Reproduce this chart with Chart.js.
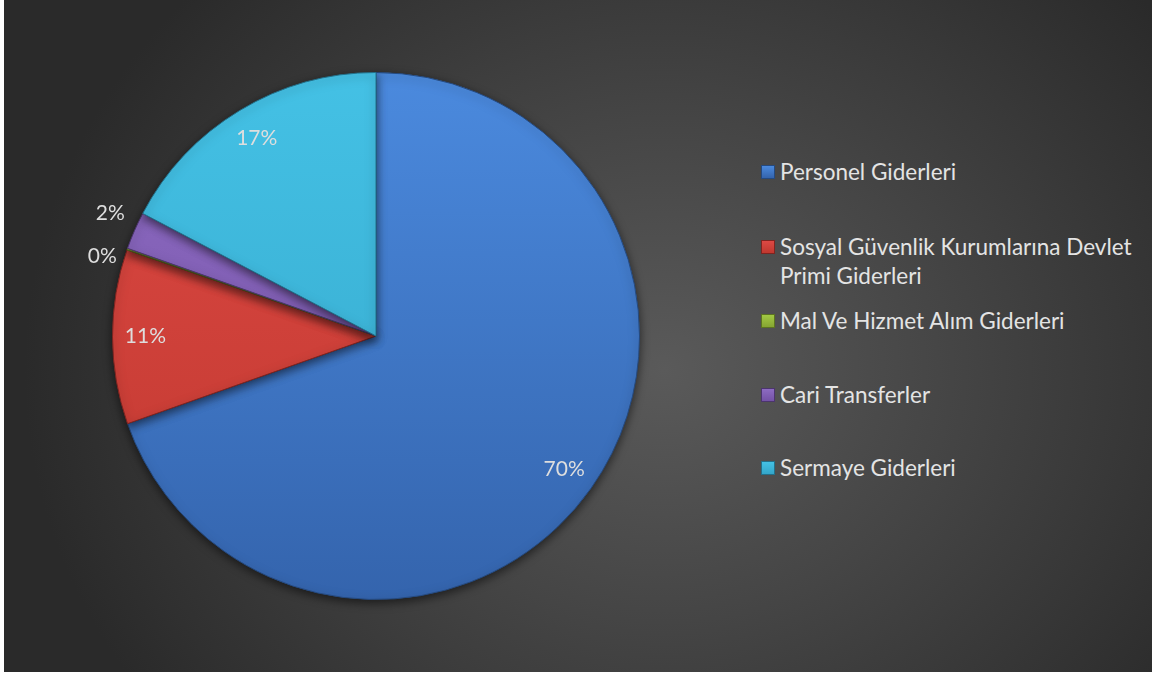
<!DOCTYPE html>
<html>
<head>
<meta charset="utf-8">
<script src="https://cdn.jsdelivr.net/npm/chart.js@4.4.1/dist/chart.umd.min.js"></script>
<style>
  html, body {
    margin: 0;
    padding: 0;
    background: #fff;
    width: 1152px;
    height: 675px;
    overflow: hidden;
  }

  #panel {
    position: absolute;
    left: 4px;
    top: 0;
    width: 1148px;
    height: 672px;
    background: radial-gradient(ellipse 640px 560px at 660px 370px, #5a5a5a 0%, #454545 45%, #2a2a2a 100%);
  }

  #canvasBox {
    position: absolute;
    left: 0;
    top: 0;
    width: 744px;
    height: 672px;
  }

  #legend {
    position: absolute;
    left: 757px;
    top: 0;
    font-family: Lato, "Open Sans", sans-serif;
    font-size: 22.5px;
    color: #e4e4e4;
  }

  .item {
    position: absolute;
    left: 0;
    width: 391px;
    display: flex;
    align-items: flex-start;
    line-height: 29px;
  }

  .box {
    flex: none;
    width: 14px;
    height: 14px;
    margin-top: 8px;
    margin-right: 5px;
    box-sizing: border-box;
  }
</style>
</head>
<body>
<div id="panel">
  <div id="canvasBox"><canvas id="chart"></canvas></div>
  <div id="legend"></div>
</div>
<script>
const categories = [
  'Personel Giderleri',
  'Sosyal Güvenlik Kurumlarına Devlet Primi Giderleri',
  'Mal Ve Hizmet Alım Giderleri',
  'Cari Transferler',
  'Sermaye Giderleri',
];
const shares = [69.6, 10.7, 0.1, 2.3, 17.3];

// light / dark tone for each slice
const lightColors = ['#4b8ade', '#dd4944', '#a2c944', '#8d6bc2', '#44c1e5'];
const darkColors = ['#3464ad', '#c0382f', '#86a532', '#7452a6', '#34a6c9'];
const edgeColors = ['#254a80', '#7e2420', '#5c7421', '#4c356e', '#23708a'];

// top of each legend entry (px inside the panel)
const legendTops = [157, 232, 306, 380, 453];

function sliceFill(context) {
  const { chart, dataIndex } = context;
  const area = chart.chartArea;
  if (!area) {
    return lightColors[dataIndex];
  }
  const g = chart.ctx.createLinearGradient(0, area.top, 0, area.bottom);
  g.addColorStop(0, lightColors[dataIndex]);
  g.addColorStop(1, darkColors[dataIndex]);
  return g;
}

const shadowPlugin = {
  id: 'sliceShadow',
  beforeDatasetsDraw(chart) {
    const { ctx } = chart;
    ctx.save();
    ctx.shadowColor = 'rgba(0, 0, 0, 0.55)';
    ctx.shadowBlur = 10;
    ctx.shadowOffsetY = 3;
  },
  afterDatasetsDraw(chart) {
    chart.ctx.restore();
  },
};

const percentLabels = {
  id: 'percentLabels',
  afterDraw(chart) {
    const { ctx } = chart;
    const meta = chart.getDatasetMeta(0);
    const values = chart.data.datasets[0].data;
    const total = values.reduce((a, b) => a + b, 0);
    const spots = meta.data.map((arc, i) => {
      const p = arc.getProps(['x', 'y', 'startAngle', 'endAngle', 'outerRadius'], true);
      const pct = Math.round((values[i] / total) * 100);
      const mid = (p.startAngle + p.endAngle) / 2;
      const outside = pct < 5;
      const r = outside ? p.outerRadius * 1.1 : p.outerRadius * 0.875;
      return {
        text: `${pct}%`,
        outside,
        x: p.x + Math.cos(mid) * r,
        y: p.y + Math.sin(mid) * r,
      };
    });

    // push neighbouring outside labels apart
    const minGap = 43;
    for (let i = 0; i < spots.length - 1; i += 1) {
      const a = spots[i];
      const b = spots[i + 1];
      if (a.outside && b.outside && Math.abs(a.y - b.y) < minGap) {
        const midY = (a.y + b.y) / 2 + 5;
        const dir = a.y > b.y ? 1 : -1;
        a.y = midY + (dir * minGap) / 2;
        b.y = midY - (dir * minGap) / 2;
      }
    }

    ctx.save();
    ctx.font = '21px Lato, "Open Sans", sans-serif';
    ctx.fillStyle = '#dedede';
    ctx.textAlign = 'center';
    ctx.textBaseline = 'middle';
    spots.forEach((s) => ctx.fillText(s.text, s.x, s.y));
    ctx.restore();
  },
};

new Chart(document.getElementById('chart'), {
  type: 'pie',
  data: {
    labels: categories,
    datasets: [{
      data: shares,
      backgroundColor: sliceFill,
      borderColor: edgeColors,
      borderWidth: 1,
      hoverOffset: 0,
    }],
  },
  options: {
    responsive: true,
    maintainAspectRatio: false,
    animation: false,
    layout: {
      padding: { top: 72, bottom: 72 },
    },
    plugins: {
      legend: { display: false },
      tooltip: { enabled: false },
    },
  },
  plugins: [shadowPlugin, percentLabels],
});

const legend = document.getElementById('legend');
categories.forEach((name, i) => {
  const item = document.createElement('div');
  item.className = 'item';
  item.style.top = `${legendTops[i]}px`;
  const box = document.createElement('span');
  box.className = 'box';
  box.style.background = `linear-gradient(${lightColors[i]}, ${darkColors[i]})`;
  box.style.border = `1px solid ${edgeColors[i]}`;
  const text = document.createElement('span');
  text.textContent = name;
  item.appendChild(box);
  item.appendChild(text);
  legend.appendChild(item);
});
</script>
</body>
</html>
